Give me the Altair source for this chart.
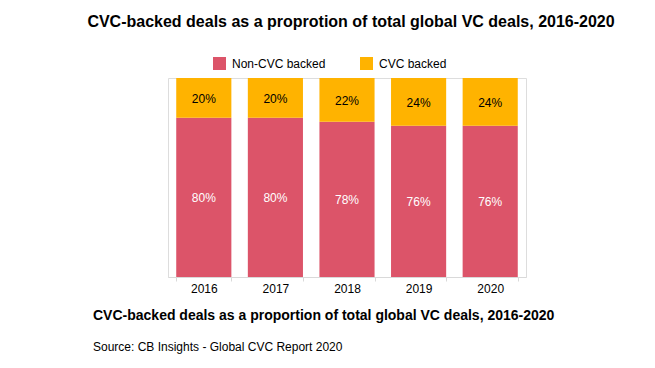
import altair as alt
import pandas as pd

years = ["2016", "2017", "2018", "2019", "2020"]
non_cvc = [80, 80, 78, 76, 76]
cvc = [20, 20, 22, 24, 24]
series_names = ["Non-CVC backed", "CVC backed"]
colors = ["#DC5469", "#FFB300"]
label_colors = ["#FFFFFF", "#000000"]

title_text = "CVC-backed deals as a proprotion of total global VC deals, 2016-2020"
caption_text = "CVC-backed deals as a proportion of total global VC deals, 2016-2020"
source_text = "Source: CB Insights - Global CVC Report 2020"

FONT = "Liberation Sans"

rows = []
for i, y in enumerate(years):
    rows.append({"year": y, "series": series_names[0], "value": non_cvc[i], "ord": 0,
                 "label": f"{non_cvc[i]}%", "tcolor": label_colors[0]})
    rows.append({"year": y, "series": series_names[1], "value": cvc[i], "ord": 1,
                 "label": f"{cvc[i]}%", "tcolor": label_colors[1]})
df = pd.DataFrame(rows)

base = alt.Chart(df)

bars = base.mark_bar().encode(
    x=alt.X("year:N", sort=years, title=None,
            scale=alt.Scale(paddingInner=0.23, paddingOuter=0.115),
            axis=alt.Axis(labelAngle=0, labelFont=FONT, labelFontSize=12, labelColor="#000000",
                          domainColor="#D9D9D9", tickColor="#D9D9D9", tickSize=4,
                          tickBand="extent", labelPadding=2, grid=False)),
    y=alt.Y("value:Q", stack="zero", scale=alt.Scale(domain=[0, 100], nice=False), axis=None),
    color=alt.Color("series:N", scale=alt.Scale(domain=series_names, range=colors),
                    legend=alt.Legend(title=None, orient="none", legendX=45, legendY=-21,
                                      direction="horizontal", symbolType="square", symbolSize=169,
                                      symbolStrokeWidth=0, labelFont=FONT, labelFontSize=12,
                                      labelColor="#000000", columnPadding=34, labelOffset=6)),
    order=alt.Order("ord:Q"),
)

labels = base.transform_stack(
    stack="value", groupby=["year"], as_=["v0", "v1"], sort=[alt.SortField("ord")]
).transform_calculate(
    mid="(datum.v0 + datum.v1) / 2"
).mark_text(font=FONT, fontSize=12, baseline="middle", dy=1).encode(
    x=alt.X("year:N", sort=years),
    y=alt.Y("mid:Q"),
    text="label:N",
    color=alt.Color("tcolor:N", scale=None),
)

title = alt.Chart(pd.DataFrame({"t": [title_text]})).mark_text(
    font=FONT, fontSize=16, fontWeight="bold", align="center", baseline="middle", color="#000000"
).encode(x=alt.value(183), y=alt.value(-56), text="t:N")

caption = alt.Chart(pd.DataFrame({"t": [caption_text]})).mark_text(
    font=FONT, fontSize=14, fontWeight="bold", align="left", baseline="middle", color="#000000"
).encode(x=alt.value(-75), y=alt.value(238), text="t:N")

source = alt.Chart(pd.DataFrame({"t": [source_text]})).mark_text(
    font=FONT, fontSize=12, align="left", baseline="middle", color="#000000"
).encode(x=alt.value(-75), y=alt.value(269), text="t:N")

chart = alt.layer(bars, labels, title, caption, source).properties(
    width=358, height=199,
    autosize=alt.AutoSizeParams(type="none"),
    padding={"left": 160, "top": 70, "right": 120, "bottom": 80},
).configure_view(stroke=None).configure(background="white")

chart.save("out.html", embed_options={"renderer": "svg", "actions": False})
